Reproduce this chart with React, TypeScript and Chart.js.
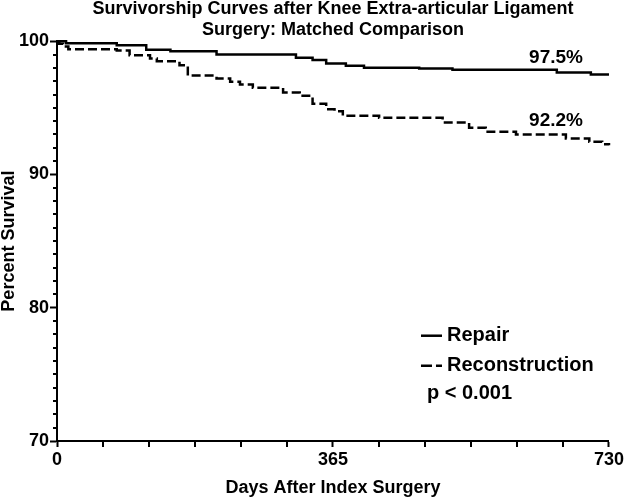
import React, { useEffect, useRef } from "react";
import { Chart, registerables } from "chart.js";

Chart.register(...registerables);

const TITLE_LINES = [
  "Survivorship Curves after Knee Extra-articular Ligament",
  "Surgery: Matched Comparison",
];
const X_TITLE = "Days After Index Surgery";
const Y_TITLE = "Percent Survival";

const SERIES_NAMES = ["Repair", "Reconstruction"];

const REPAIR_DAYS = [0, 12, 79, 118, 150, 211, 316, 338, 356, 382, 406, 479, 523, 661, 706, 730];
const REPAIR_SURV = [100, 99.85, 99.7, 99.35, 99.25, 99.0, 98.75, 98.58, 98.33, 98.15, 98.0, 97.95, 97.85, 97.65, 97.5, 97.5];

const RECON_DAYS = [0, 3, 8, 15, 79, 96, 123, 132, 162, 173, 211, 229, 242, 259, 299, 321, 338, 356, 367, 378, 426, 510, 545, 567, 607, 673, 704, 721, 730];
const RECON_SURV = [100, 99.8, 99.6, 99.4, 99.3, 98.95, 98.7, 98.5, 98.2, 97.42, 97.2, 96.95, 96.75, 96.5, 96.15, 95.9, 95.3, 94.9, 94.75, 94.4, 94.25, 93.9, 93.5, 93.2, 93.0, 92.7, 92.45, 92.27, 92.2];

const END_LABELS = ["97.5%", "92.2%"];
const END_LABEL_DAYS = [660, 660];
const END_LABEL_VALUES = [98.75, 94.05];

const P_VALUE_TEXT = "p < 0.001";

const X_TICKS = [0, 365, 730];
const Y_TICKS = [70, 80, 90, 100];

const FONT = "'Liberation Sans', Arial, Helvetica, sans-serif";

const decorPlugin = {
  id: "decor",
  afterDraw(chart: any) {
    const { ctx, chartArea, scales } = chart;
    const xs = scales.x;
    const ys = scales.y;
    ctx.save();
    ctx.strokeStyle = "#000";
    ctx.lineWidth = 2;
    // minor y ticks
    for (let v = 70; v <= 100; v += 1) {
      if (v % 10 === 0) continue;
      const py = Math.round(ys.getPixelForValue(v));
      ctx.beginPath();
      ctx.moveTo(chartArea.left - 4, py);
      ctx.lineTo(chartArea.left, py);
      ctx.stroke();
    }
    // minor x ticks
    for (let i = 1; i < 12; i++) {
      if (i === 6) continue;
      const px = Math.round(xs.getPixelForValue((730 / 12) * i));
      ctx.beginPath();
      ctx.moveTo(px, chartArea.bottom);
      ctx.lineTo(px, chartArea.bottom + 6);
      ctx.stroke();
    }
    // end labels
    ctx.fillStyle = "#000";
    ctx.font = `bold 19px ${FONT}`;
    ctx.textAlign = "center";
    ctx.textBaseline = "middle";
    END_LABELS.forEach((t, i) => {
      ctx.fillText(t, xs.getPixelForValue(END_LABEL_DAYS[i]), ys.getPixelForValue(END_LABEL_VALUES[i]));
    });
    // legend
    const lx = chartArea.right - 188;
    const ly1 = ys.getPixelForValue(77.9);
    const ly2 = ys.getPixelForValue(75.65);
    const ly3 = ys.getPixelForValue(73.6);
    ctx.lineWidth = 2.5;
    ctx.beginPath();
    ctx.moveTo(lx, ly1);
    ctx.lineTo(lx + 21, ly1);
    ctx.stroke();
    ctx.setLineDash([11, 4]);
    ctx.beginPath();
    ctx.moveTo(lx, ly2);
    ctx.lineTo(lx + 21, ly2);
    ctx.stroke();
    ctx.setLineDash([]);
    ctx.font = `bold 20px ${FONT}`;
    ctx.textAlign = "left";
    ctx.fillText(SERIES_NAMES[0], lx + 26, ly1);
    ctx.fillText(SERIES_NAMES[1], lx + 26, ly2);
    ctx.fillText(P_VALUE_TEXT, lx + 6, ly3);
    ctx.restore();
  },
};

export default function App() {
  const ref = useRef<HTMLCanvasElement | null>(null);

  useEffect(() => {
    document.body.style.margin = "0";
    const canvas = ref.current;
    if (!canvas) return;
    const chart = new Chart(canvas, {
      type: "line",
      data: {
        datasets: [
          {
            label: SERIES_NAMES[0],
            data: REPAIR_DAYS.map((d, i) => ({ x: d, y: REPAIR_SURV[i] })),
            borderColor: "#000",
            borderWidth: 2.5,
            pointRadius: 0,
            stepped: "before",
            fill: false,
            clip: 6,
          },
          {
            label: SERIES_NAMES[1],
            data: RECON_DAYS.map((d, i) => ({ x: d, y: RECON_SURV[i] })),
            borderColor: "#000",
            borderWidth: 2.5,
            borderDash: [9, 4],
            pointRadius: 0,
            stepped: "before",
            fill: false,
            clip: 6,
          },
        ],
      },
      options: {
        responsive: false,
        animation: false,
        layout: { padding: { left: 0, right: 16, top: 0, bottom: 0 } },
        plugins: {
          legend: { display: false },
          tooltip: { enabled: false },
          title: {
            display: true,
            text: TITLE_LINES,
            fullSize: false,
            color: "#000",
            font: { family: FONT, size: 18, weight: "bold", lineHeight: 1.2 },
            padding: { top: -2, bottom: 0 },
          },
        },
        scales: {
          x: {
            type: "linear",
            min: 0,
            max: 730,
            afterBuildTicks: (s: any) => {
              s.ticks = X_TICKS.map((v) => ({ value: v }));
            },
            afterFit: (s: any) => {
              s.height = 58;
            },
            border: { display: true, color: "#000", width: 2 },
            grid: { drawOnChartArea: false, drawTicks: true, tickLength: 6, tickWidth: 2, tickColor: "#000" },
            ticks: {
              color: "#000",
              padding: 2,
              maxRotation: 0,
              font: { family: FONT, size: 18, weight: "bold" },
            },
            title: {
              display: true,
              text: X_TITLE,
              color: "#000",
              font: { family: FONT, size: 18, weight: "bold", lineHeight: 1.2 },
              padding: 0,
            },
          },
          y: {
            type: "linear",
            min: 70,
            max: 100,
            afterBuildTicks: (s: any) => {
              s.ticks = Y_TICKS.map((v) => ({ value: v }));
            },
            afterFit: (s: any) => {
              s.width = 57;
            },
            border: { display: true, color: "#000", width: 2 },
            grid: { drawOnChartArea: false, drawTicks: true, tickLength: 7, tickWidth: 2, tickColor: "#000" },
            ticks: {
              color: "#000",
              padding: 1,
              font: { family: FONT, size: 18, weight: "bold" },
            },
            title: {
              display: true,
              text: Y_TITLE,
              color: "#000",
              font: { family: FONT, size: 18, weight: "bold", lineHeight: 1.0 },
              padding: 0,
            },
          },
        },
      },
      plugins: [decorPlugin],
    } as any);
    return () => chart.destroy();
  }, []);

  return (
    <div style={{ position: "absolute", left: 0, top: 0, width: 626, height: 499, background: "#fff" }}>
      <canvas ref={ref} width={626} height={499} />
    </div>
  );
}
